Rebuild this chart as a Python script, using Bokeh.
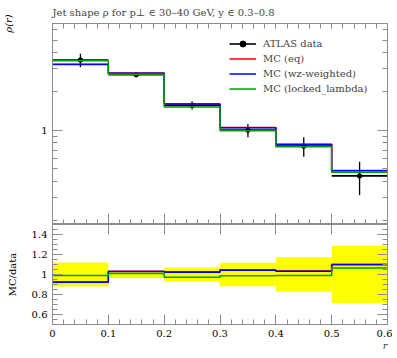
import numpy as np
from bokeh.plotting import figure
from bokeh.models import (FixedTicker, LinearAxis, LogAxis, Range1d, Title,
                          Legend, LegendItem)
from bokeh.layouts import column
from bokeh.embed import file_html
from bokeh.resources import INLINE

# ---------------- data ----------------
r_edges = [0.0, 0.1, 0.2, 0.3, 0.4, 0.5, 0.6]
data_rho = [3.50, 2.69, 1.556, 1.00, 0.751, 0.441]
data_err = [0.42, 0.095, 0.110, 0.118, 0.130, 0.127]
mc_eq = [3.25, 2.78, 1.598, 1.047, 0.778, 0.486]
mc_wz = [3.23, 2.77, 1.592, 1.042, 0.775, 0.484]
mc_locked = [3.465, 2.72, 1.512, 0.988, 0.744, 0.470]

x_major_ticks = [0.0, 0.1, 0.2, 0.3, 0.4, 0.5, 0.6]
x_tick_labels = ["0", "0.1", "0.2", "0.3", "0.4", "0.5", "0.6"]
x_minor_ticks = [round(0.02 * i, 2) for i in range(31)]
main_major_ticks = [1]
main_tick_labels = ["1"]
main_minor_ticks = [0.2, 0.3, 0.4, 0.5, 0.6, 0.7, 0.8, 0.9, 2, 3, 4, 5, 6]
ratio_major_ticks = [0.6, 0.8, 1.0, 1.2, 1.4]
ratio_tick_labels = ["0.6", "0.8", "1", "1.2", "1.4"]
ratio_minor_ticks = [round(0.5 + 0.05 * i, 2) for i in range(21)]

title_text = "Jet shape \u03c1 for p\u22a5 \u2208 30\u201340 GeV, y \u2208 0.3\u20130.8"

FONT = "DejaVu Serif"
AXC = "#8c8c8c"
C_EQ, C_WZ, C_LK = "#ff0000", "#0000ff", "#00a000"

X_LO, X_HI = 0.0, 0.6
Y_LO, Y_HI = 0.185, 6.73
R_LO, R_HI = 0.5, 1.5

x0 = np.array(r_edges[:-1])
x1 = np.array(r_edges[1:])
xc = (x0 + x1) / 2
d = np.array(data_rho)
e = np.array(data_err)


def step_y(vals):
    v = list(vals)
    return v + [v[-1]]


def style_axis(ax, tick_in, minor_in, labels=True, fixed=None):
    ax.axis_line_color = AXC
    ax.major_tick_line_color = AXC
    ax.minor_tick_line_color = AXC
    ax.major_tick_in = tick_in
    ax.major_tick_out = 0
    ax.minor_tick_in = minor_in
    ax.minor_tick_out = 0
    if labels:
        ax.major_label_text_font = FONT
        ax.major_label_text_font_size = "10px"
        ax.major_label_text_color = "black"
        ax.major_label_standoff = 5
    else:
        ax.major_label_text_color = None
        ax.major_label_standoff = 0
    if fixed is not None:
        ax.fixed_location = fixed


def set_axis_label(ax, text, standoff, style, align):
    ax.axis_label = text
    ax.axis_label_standoff = standoff
    ax.axis_label_text_font = FONT
    ax.axis_label_text_font_size = "10px"
    ax.axis_label_text_font_style = style
    ax.axis_label_text_color = "black"
    ax.axis_label_align = align


# ---------------- main plot ----------------
p = figure(frame_width=335, frame_height=201, y_axis_type="log",
           x_range=Range1d(X_LO, X_HI), y_range=Range1d(Y_LO, Y_HI),
           output_backend="svg", toolbar_location=None,
           x_axis_location=None, y_axis_location=None,
           min_border_left=50, min_border_right=7, min_border_top=23,
           min_border_bottom=0)
p.grid.visible = False
p.outline_line_color = AXC
p.background_fill_color = "white"

p.title = Title(text=title_text, align="left", vertical_align="top",
                text_font=FONT, text_font_size="10px",
                text_font_style="normal", standoff=7, offset=0)

main_ticker = FixedTicker(ticks=main_major_ticks, minor_ticks=main_minor_ticks)
yl = LogAxis(ticker=main_ticker,
             major_label_overrides=dict(zip(main_major_ticks, main_tick_labels)))
style_axis(yl, 10, 5)
set_axis_label(yl, "\u03c1(r)", 24, "italic", "end")
p.add_layout(yl, "left")
yr = LogAxis(ticker=main_ticker)
style_axis(yr, 10, 5, labels=False, fixed=X_HI)
p.add_layout(yr, "right")
xb = LinearAxis(ticker=FixedTicker(ticks=x_major_ticks, minor_ticks=x_minor_ticks))
style_axis(xb, 11, 5, labels=False, fixed=Y_LO)
p.add_layout(xb, "below")
xt = LinearAxis(ticker=FixedTicker(ticks=x_major_ticks, minor_ticks=x_minor_ticks))
style_axis(xt, 5, 5, labels=False, fixed=Y_HI)
p.add_layout(xt, "above")

# data
xbar = p.segment(x0=x0, y0=d, x1=x1, y1=d, line_color="black", line_width=1.6)
p.segment(x0=xc, y0=d - e, x1=xc, y1=d + e, line_color="black", line_width=1.3)
pts = p.scatter(x=xc, y=d, size=4.5, color="black")

r_eq = p.step(x=r_edges, y=step_y(mc_eq), mode="after", line_color=C_EQ, line_width=1.5)
r_wz = p.step(x=r_edges, y=step_y(mc_wz), mode="after", line_color=C_WZ, line_width=1.5)
r_lk = p.step(x=r_edges, y=step_y(mc_locked), mode="after", line_color=C_LK, line_width=1.5)

legend = Legend(items=[
    LegendItem(label="ATLAS data", renderers=[xbar, pts]),
    LegendItem(label="MC (eq)", renderers=[r_eq]),
    LegendItem(label="MC (wz-weighted)", renderers=[r_wz]),
    LegendItem(label="MC (locked_lambda)", renderers=[r_lk]),
], location=(177, 128), padding=0, margin=0, spacing=0,
    glyph_width=27, glyph_height=15, label_height=15, label_standoff=7,
    label_text_font=FONT, label_text_font_size="10px",
    border_line_color=None, background_fill_alpha=0)
p.add_layout(legend)

# ---------------- ratio plot ----------------
q = figure(frame_width=335, frame_height=100,
           x_range=p.x_range, y_range=Range1d(R_LO, R_HI),
           output_backend="svg", toolbar_location=None,
           x_axis_location=None, y_axis_location=None,
           min_border_left=50, min_border_right=7, min_border_top=0,
           min_border_bottom=30)
q.grid.visible = False
q.outline_line_color = AXC

ratio_ticker = FixedTicker(ticks=ratio_major_ticks, minor_ticks=ratio_minor_ticks)
ql = LinearAxis(ticker=ratio_ticker,
                major_label_overrides=dict(zip(ratio_major_ticks, ratio_tick_labels)))
style_axis(ql, 10, 5)
set_axis_label(ql, "MC/data", 11, "normal", "center")
q.add_layout(ql, "left")
qr = LinearAxis(ticker=ratio_ticker)
style_axis(qr, 10, 5, labels=False, fixed=X_HI)
q.add_layout(qr, "right")
qb = LinearAxis(ticker=FixedTicker(ticks=x_major_ticks, minor_ticks=x_minor_ticks),
                major_label_overrides=dict(zip(x_major_ticks, x_tick_labels)))
style_axis(qb, 10, 5)
q.add_layout(qb, "below")
qt = LinearAxis(ticker=FixedTicker(ticks=x_major_ticks, minor_ticks=[]))
style_axis(qt, 10, 0, labels=False, fixed=R_HI)
q.add_layout(qt, "above")

q.add_layout(Title(text="r", align="right", vertical_align="top",
                   text_font=FONT, text_font_size="10px",
                   text_font_style="italic", standoff=0, offset=0), "below")

rel = e / d
q.quad(left=x0, right=x1, bottom=1 - rel, top=1 + rel,
       fill_color="#ffff00", line_color=None)
q.step(x=r_edges, y=step_y(np.array(mc_eq) / d), mode="after", line_color=C_EQ, line_width=1.5)
q.step(x=r_edges, y=step_y(np.array(mc_wz) / d), mode="after", line_color=C_WZ, line_width=1.5)
q.step(x=r_edges, y=step_y(np.array(mc_locked) / d), mode="after", line_color=C_LK, line_width=1.5)

layout = column(p, q, spacing=0)
open("out.html", "w").write(file_html(layout, INLINE))
